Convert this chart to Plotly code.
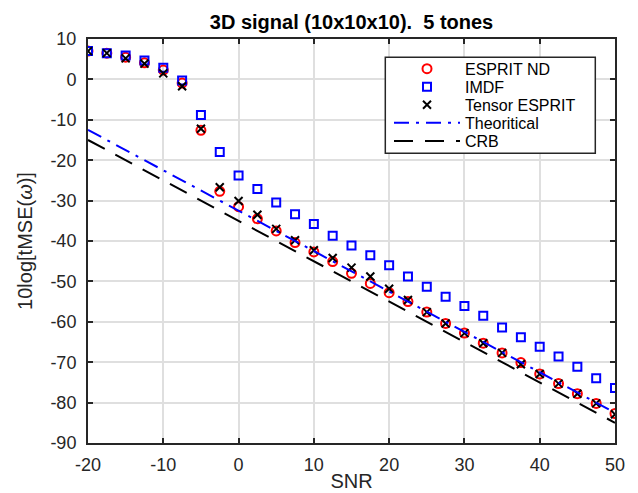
import plotly.graph_objects as go

snr = [-20, -17.5, -15, -12.5, -10, -7.5, -5, -2.5, 0, 2.5, 5, 7.5, 10, 12.5, 15,
       17.5, 20, 22.5, 25, 27.5, 30, 32.5, 35, 37.5, 40, 42.5, 45, 47.5, 50]

esprit_nd = [7.0, 6.5, 5.5, 4.1, 2.3, -0.9, -12.6, -27.7, -31.5, -34.5, -37.5, -40.4,
             -42.7, -45.1, -48.0, -50.5, -52.8, -55.0, -57.6, -60.4, -62.8, -65.3,
             -67.7, -70.1, -72.9, -75.3, -77.8, -80.2, -82.7]

imdf = [7.0, 6.5, 5.9, 4.7, 2.9, -0.3, -8.8, -18.0, -23.8, -27.1, -30.5, -33.4,
        -35.8, -38.7, -41.1, -43.5, -46.0, -48.8, -51.3, -53.8, -56.1, -58.5,
        -61.4, -63.8, -66.2, -68.6, -71.1, -74.0, -76.4]

tensor_esprit = [7.0, 6.5, 5.2, 3.9, 1.5, -1.7, -12.2, -26.7, -30.1, -33.5, -37.0,
                 -39.8, -42.3, -44.2, -46.6, -48.8, -51.8, -54.6, -57.6, -60.4,
                 -62.8, -65.3, -67.7, -70.5, -72.9, -75.3, -77.8, -80.2, -82.9]

theoretical = [-12.5, -15.0, -17.5, -20.0, -22.5, -25.0, -27.5, -30.0, -32.5, -35.0,
               -37.5, -40.0, -42.5, -45.0, -47.5, -50.0, -52.5, -55.0, -57.5, -60.0,
               -62.5, -65.0, -67.5, -70.0, -72.5, -75.0, -77.5, -80.0, -82.5]

crb = [-15.0, -17.5, -20.0, -22.5, -25.0, -27.5, -30.0, -32.5, -35.0, -37.5, -40.0,
       -42.5, -45.0, -47.5, -50.0, -52.5, -55.0, -57.5, -60.0, -62.5, -65.0, -67.5,
       -70.0, -72.5, -75.0, -77.5, -80.0, -82.5, -85.0]

x_ticks = [-20, -10, 0, 10, 20, 30, 40, 50]
x_tick_labels = ["-20", "-10", "0", "10", "20", "30", "40", "50"]
y_ticks = [10, 0, -10, -20, -30, -40, -50, -60, -70, -80, -90]
y_tick_labels = ["10", "0", "-10", "-20", "-30", "-40", "-50", "-60", "-70", "-80", "-90"]

series_names = ["ESPRIT ND", "IMDF", "Tensor ESPRIT", "Theoritical", "CRB"]

FONT = "Liberation Sans, Arial, Helvetica, sans-serif"
AX = "#262626"

# ---- layout geometry (pixels) ----
W, H = 638, 493
ML, MR, MT, MB = 80, 31, 31, 48
PW, PH = W - ML - MR, H - MT - MB


def px_x(px):
    return (px - ML) / PW


def px_y(py):
    return (H - MB - py) / PH


fig = go.Figure()
fig.add_trace(go.Scatter(x=snr, y=esprit_nd, mode="markers", name=series_names[0],
                         legend="legend",
                         marker=dict(symbol="circle-open", size=9, color="red",
                                     line=dict(width=2, color="red"))))
fig.add_trace(go.Scatter(x=snr, y=imdf, mode="markers", name=series_names[1],
                         legend="legend2",
                         marker=dict(symbol="square-open", size=8, color="blue",
                                     line=dict(width=2, color="blue"))))
fig.add_trace(go.Scatter(x=snr, y=tensor_esprit, mode="markers", name=series_names[2],
                         legend="legend3",
                         marker=dict(symbol="x-thin-open", size=8, color="black",
                                     line=dict(width=2, color="black"))))
fig.add_trace(go.Scatter(x=snr, y=theoretical, mode="lines", name=series_names[3],
                         legend="legend4",
                         line=dict(color="blue", width=2, dash="15px,7px,3px,7px")))
fig.add_trace(go.Scatter(x=snr, y=crb, mode="lines", name=series_names[4],
                         legend="legend5",
                         line=dict(color="black", width=2, dash="19px,12px")))

axis_common = dict(
    showline=True, linecolor=AX, linewidth=2, mirror="ticks",
    ticks="inside", ticklen=5, tickwidth=1.5, tickcolor=AX,
    showgrid=True, gridcolor="#dfdfdf", gridwidth=1.5,
    zeroline=False, tickfont=dict(family=FONT, size=18, color=AX),
)

fig.update_xaxes(range=[-20, 50], tickvals=x_ticks, ticktext=x_tick_labels,
                 ticklabelstandoff=4,
                 title=dict(text="SNR", font=dict(family=FONT, size=20, color=AX), standoff=0),
                 **axis_common)
fig.update_yaxes(range=[-90, 10], tickvals=y_ticks, ticktext=y_tick_labels,
                 ticklabelstandoff=6,
                 title=dict(text="10log[tMSE(<i>ω</i>)]", font=dict(family=FONT, size=20, color=AX),
                            standoff=12),
                 **axis_common)

# legend rows (centre y in px), one legend per entry so the row spacing matches
LEG_FONT = 16
row_centres = [61.0, 79.5, 98.0, 116.5, 135.0]
row_offset = 5 + (LEG_FONT * 1.3 + 3) / 2
legend_left_px = 381
item_w = 66
legends = {}
for i, cy in enumerate(row_centres):
    key = "legend" if i == 0 else f"legend{i + 1}"
    legends[key] = dict(
        x=px_x(legend_left_px), y=px_y(cy - row_offset), xanchor="left", yanchor="top",
        bgcolor="rgba(0,0,0,0)", borderwidth=0,
        font=dict(family=FONT, size=LEG_FONT, color="black"),
        itemwidth=item_w, tracegroupgap=0,
    )

fig.update_layout(
    width=W, height=H,
    margin=dict(l=ML, r=MR, t=MT, b=MB),
    paper_bgcolor="white", plot_bgcolor="white",
    font=dict(family=FONT, color=AX),
    title=dict(text="<b>3D signal (10x10x10).\u00a0 5 tones</b>",
               font=dict(family=FONT, size=20, color="black"),
               x=0.5, xref="paper", xanchor="center",
               y=1 - 14 / H, yanchor="middle"),
    showlegend=True,
    shapes=[dict(type="rect", xref="paper", yref="paper", layer="above",
                 x0=px_x(377.3), x1=px_x(587.3), y0=px_y(148.0), y1=px_y(49.7),
                 fillcolor="white", line=dict(color=AX, width=1.5))],
    **legends,
)

fig.write_html("out.html")
